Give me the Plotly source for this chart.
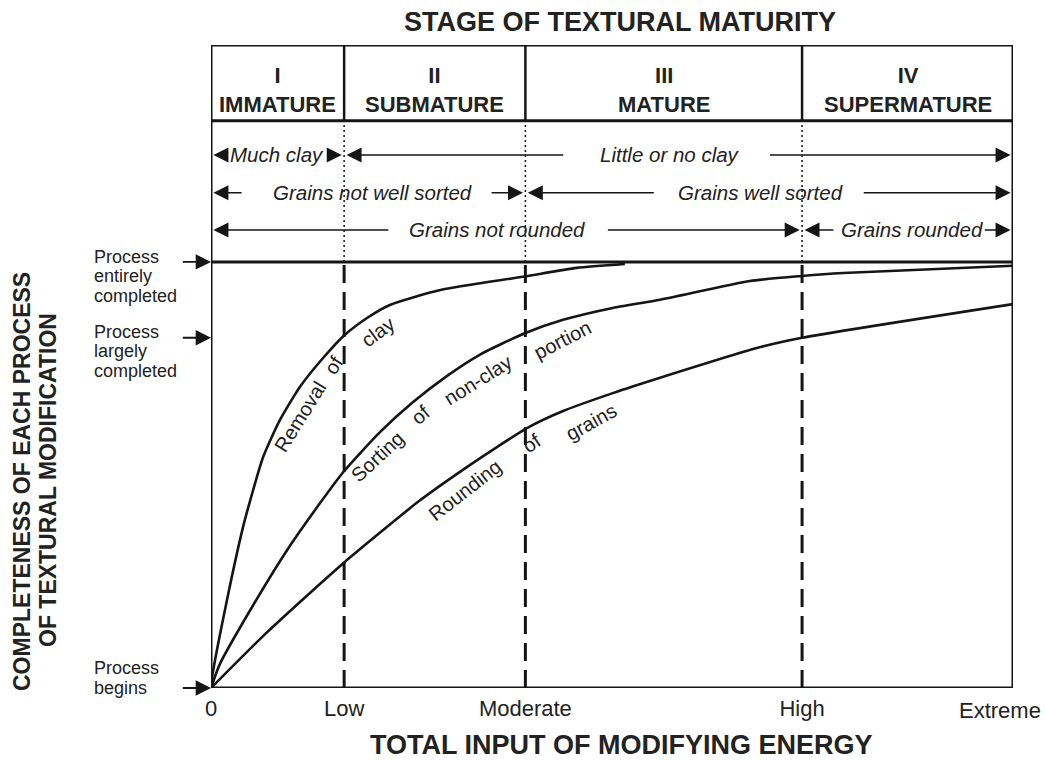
import plotly.graph_objects as go

# ---- data -------------------------------------------------------------
# energy axis, expressed as 0-100 of the full range
energy_labels = ["0", "Low", "Moderate", "High", "Extreme"]
energy_values = [0, 16.6, 39.2, 73.7, 100]

stage_numerals = ["I", "II", "III", "IV"]
stage_names = ["IMMATURE", "SUBMATURE", "MATURE", "SUPERMATURE"]

# completeness of each process, 0 = begins, 100 = entirely completed
process_texts = [["Process", "begins"],
                 ["Process", "largely", "completed"],
                 ["Process", "entirely", "completed"]]
process_values = [0, 82.2, 100]

clay_x = [0, 0.12, 2.0, 4.0, 4.9, 6.5, 8.6, 11.1, 14.0, 16.7, 19.5, 22.3, 28.6, 38.9, 45.6, 51.6]
clay_y = [0, 2.3, 20.7, 37.8, 44.1, 54.2, 62.9, 70.7, 77.5, 82.9, 86.9, 89.9, 93.4, 96.5, 98.6, 99.5]

sorting_x = [0, 1.1, 4.9, 9.5, 13.6, 16.5, 21.1, 25.2, 29.4, 33.5, 39.2, 43.9, 50.1, 56.0,
             67.2, 73.7, 78.8, 100]
sorting_y = [0, 5.6, 18.3, 32.4, 43.4, 50.7, 60.1, 67.1, 73.2, 78.2, 83.3, 86.4, 89.2, 91.1,
             95.5, 96.7, 97.4, 99.1]

rounding_x = [0, 7.0, 16.5, 26.1, 31.4, 35.7, 39.4, 43.9, 50.1, 56.0, 68.5, 73.7, 100]
rounding_y = [0, 13.1, 29.3, 44.1, 51.2, 56.6, 61.0, 65.0, 69.2, 72.8, 80.0, 82.2, 90.1]

# texture rows in the header: (text, span start, span end)
clay_row = [("Much clay", 0, 16.6), ("Little or no clay", 16.6, 100)]
sorted_row = [("Grains not well sorted", 0, 39.2), ("Grains well sorted", 39.2, 100)]
rounded_row = [("Grains not rounded", 0, 73.7), ("Grains rounded", 73.7, 100)]

# ---- layout helpers ---------------------------------------------------
W, H = 1045, 760
L, R, T, B = 211, 32, 45, 72
PW, PH = W - L - R, H - T - B
Y_TOP = 150.9          # top of header box in completeness units
HEADER_LINE = 133.1    # bottom of stage-name row
ROW_Y = [125.1, 116.2, 107.5]
# text centre and inner arrow tails for each row span
ROW_LAYOUT = [
    [(8.2, 2.0, 14.4), (57.2, 44.1, 69.5)],
    [(20.1, 4.0, 34.8), (68.5, 55.4, 81.2)],
    [(35.7, 22.3, 49.3), (87.4, 77.8, 96.3)],
]
INK = "#151515"
TXT = "#222222"
FONT = "Arial, 'Liberation Sans', Helvetica, sans-serif"


def py(v):
    return v / Y_TOP


fig = go.Figure()

for name, xs, ys in [("Removal of clay", clay_x, clay_y),
                     ("Sorting of non-clay portion", sorting_x, sorting_y),
                     ("Rounding of grains", rounding_x, rounding_y)]:
    fig.add_trace(go.Scatter(x=xs, y=ys, mode="lines", name=name,
                             line=dict(color=INK, width=2.6, shape="spline", smoothing=0.6),
                             hoverinfo="skip", showlegend=False))

shapes = [
    dict(type="rect", x0=0, x1=100, y0=0, y1=Y_TOP, line=dict(color=INK, width=3)),
    dict(type="line", x0=0, x1=100, y0=100, y1=100, line=dict(color=INK, width=3)),
    dict(type="line", x0=0, x1=100, y0=HEADER_LINE, y1=HEADER_LINE, line=dict(color=INK, width=3)),
]
for b in energy_values[1:4]:
    shapes.append(dict(type="line", x0=b, x1=b, y0=HEADER_LINE, y1=Y_TOP,
                       line=dict(color=INK, width=2.5)))
    shapes.append(dict(type="line", x0=b, x1=b, y0=100, y1=HEADER_LINE,
                       line=dict(color=INK, width=1.5, dash="2px,3px")))
    shapes.append(dict(type="line", x0=b, x1=b, y0=0, y1=100,
                       line=dict(color=INK, width=3, dash="18px,9px")))

ann = []

# stage names
for i, (num, nm) in enumerate(zip(stage_numerals, stage_names)):
    cx = (energy_values[i] + energy_values[i + 1]) / 2
    ann.append(dict(x=cx, y=140.4, xref="x", yref="y", showarrow=False,
                    xanchor="center", yanchor="middle",
                    text=f"<b>{num}<br>{nm}</b>", font=dict(size=22, color=TXT)))


def arrow(x_head, y, x_tail, width=1.5, size=2.0):
    return dict(x=x_head, y=y, ax=x_tail, ay=y, xref="x", yref="y", axref="x", ayref="y",
                text="", showarrow=True, arrowhead=2, arrowsize=size, arrowwidth=width,
                arrowcolor=INK)


for row, ry, lay in zip([clay_row, sorted_row, rounded_row], ROW_Y, ROW_LAYOUT):
    for (txt, x0, x1), (cx, tl, tr) in zip(row, lay):
        ann.append(dict(x=cx, y=ry, xref="x", yref="y", showarrow=False,
                        xanchor="center", yanchor="middle",
                        text=f"<i>{txt}</i>", font=dict(size=20.5, color=TXT)))
        ann.append(arrow(x0 + 0.3, ry, tl))
        ann.append(arrow(x1 - 0.3, ry, tr))

# curve labels, word by word along each curve
curve_words = [
    ("Removal", 11.1, 63.6, -58), ("of", 15.3, 75.8, -58), ("clay", 20.8, 83.6, -36),
    ("Sorting", 20.7, 54.2, -43), ("of", 26.1, 64.1, -40), ("non-clay", 33.3, 72.3, -32),
    ("portion", 43.8, 81.7, -27),
    ("Rounding", 31.7, 46.5, -38), ("of", 40.0, 57.5, -34), ("grains", 47.4, 62.4, -29),
]
for w, x, y, a in curve_words:
    ann.append(dict(x=x, y=y, xref="x", yref="y", showarrow=False, text=w, textangle=a,
                    xanchor="center", yanchor="middle", font=dict(size=20, color=TXT)))

# completeness labels on the left, one annotation per line for tight leading
first_shift = [20, 6, 5]
pitch = 19.5
for lines, v, s0 in zip(process_texts, process_values, first_shift):
    for k, line in enumerate(lines):
        ann.append(dict(x=(92 - L) / PW, y=py(v), xref="paper", yref="paper",
                        xanchor="left", yanchor="middle", yshift=s0 - pitch * k,
                        showarrow=False, text=line, font=dict(size=18, color=TXT)))
    ann.append(arrow(0, v, -3.7, width=1.8, size=1.7))

# last energy label sits inside the page edge
ann.append(dict(x=1, y=0, xref="paper", yref="paper", xanchor="right", yanchor="top",
                xshift=30, yshift=-8, showarrow=False, text=energy_labels[-1],
                font=dict(size=22, color=TXT)))

# axis titles
ann.append(dict(x=(621 - L) / PW, y=(H - B - 745) / PH, xref="paper", yref="paper",
                xanchor="center", yanchor="middle",
                showarrow=False, text="<b>TOTAL INPUT OF MODIFYING ENERGY</b>",
                font=dict(size=27, color=TXT)))
ann.append(dict(x=(22 - L) / PW, y=(H - B - 482) / PH, xref="paper", yref="paper",
                xanchor="center", yanchor="middle",
                showarrow=False, textangle=-90, text="<b>COMPLETENESS OF EACH PROCESS</b>",
                font=dict(size=23, color=TXT)))
ann.append(dict(x=(48 - L) / PW, y=(H - B - 480) / PH, xref="paper", yref="paper",
                xanchor="center", yanchor="middle",
                showarrow=False, textangle=-90, text="<b>OF TEXTURAL MODIFICATION</b>",
                font=dict(size=23, color=TXT)))

fig.update_layout(
    width=W, height=H,
    margin=dict(l=L, r=R, t=T, b=B, pad=0),
    paper_bgcolor="white", plot_bgcolor="white",
    font=dict(family=FONT, color=TXT),
    title=dict(text="<b>STAGE OF TEXTURAL MATURITY</b>", x=620 / W, xanchor="center",
               y=1 - 22 / H, yanchor="middle", font=dict(size=27, color=TXT)),
    xaxis=dict(range=[0, 100], tickvals=energy_values[:4], ticktext=energy_labels[:4],
               ticks="", showgrid=False, zeroline=False, showline=False,
               tickfont=dict(size=22, color=TXT), ticklabelstandoff=5, fixedrange=True),
    yaxis=dict(range=[0, Y_TOP], showticklabels=False, ticks="", showgrid=False,
               zeroline=False, showline=False, fixedrange=True),
    shapes=shapes,
    annotations=ann,
    showlegend=False,
)

fig.write_html("out.html", config={"displayModeBar": False},
               post_script="document.body.style.margin = '0px';")
